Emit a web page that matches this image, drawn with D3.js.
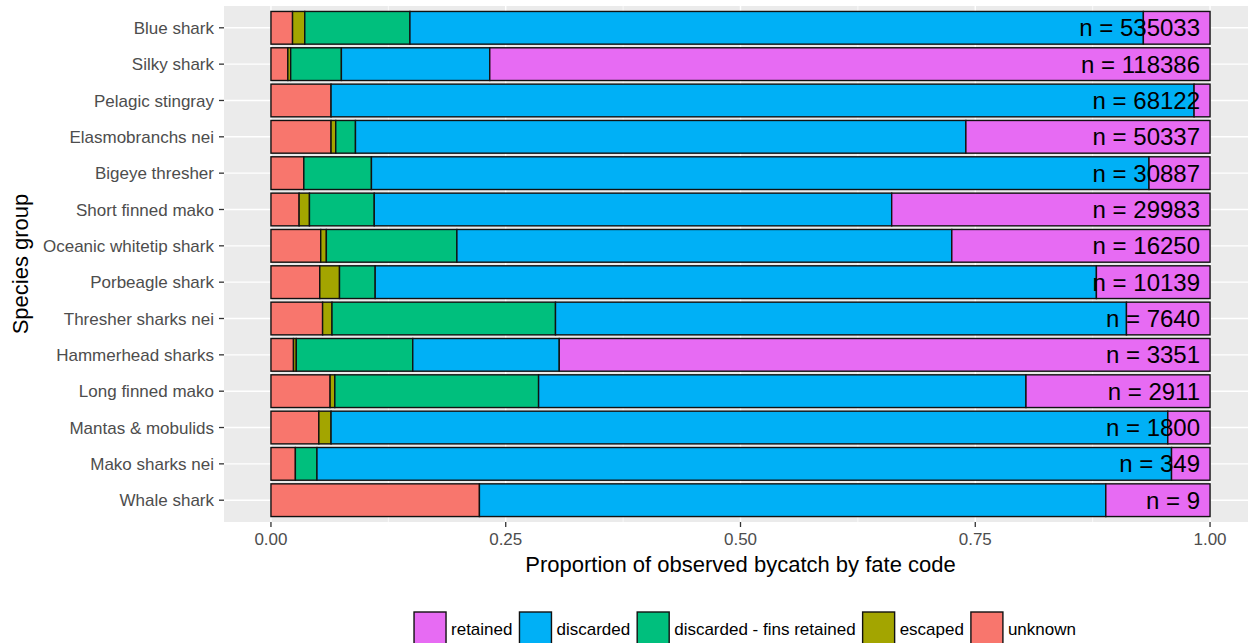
<!DOCTYPE html>
<html>
<head>
<meta charset="utf-8">
<script src="https://cdn.jsdelivr.net/npm/d3@7"></script>
<style>
	body { margin: 0; background: #fff; }
	text { font-family: "Liberation Sans", Arial, sans-serif; }
</style>
</head>
<body>
<svg id="chart" width="1248" height="643"></svg>
<script>
/*=================================
	DATA
**===============================*/

//Species, top to bottom
var species = ["Blue shark", "Silky shark", "Pelagic stingray", "Elasmobranchs nei",
	"Bigeye thresher", "Short finned mako", "Oceanic whitetip shark", "Porbeagle shark",
	"Thresher sharks nei", "Hammerhead sharks", "Long finned mako", "Mantas & mobulids",
	"Mako sharks nei", "Whale shark"];

//Proportion of each fate code
var unknown      = [0.023, 0.018, 0.064, 0.064, 0.035, 0.030, 0.053, 0.052, 0.055, 0.024, 0.063, 0.051, 0.026, 0.222];
var escaped      = [0.013, 0.003, 0.000, 0.005, 0.000, 0.011, 0.006, 0.021, 0.010, 0.003, 0.005, 0.013, 0.000, 0.000];
var finsRetained = [0.112, 0.054, 0.000, 0.021, 0.072, 0.069, 0.139, 0.038, 0.238, 0.124, 0.217, 0.000, 0.023, 0.000];
var discarded    = [0.781, 0.158, 0.919, 0.650, 0.828, 0.551, 0.527, 0.768, 0.608, 0.156, 0.519, 0.891, 0.910, 0.667];
var retained     = [0.071, 0.767, 0.017, 0.260, 0.065, 0.339, 0.275, 0.121, 0.089, 0.693, 0.196, 0.045, 0.041, 0.111];

//Observed counts
var nObs = [535033, 118386, 68122, 50337, 30887, 29983, 16250, 10139, 7640, 3351, 2911, 1800, 349, 9];

var xTicks = [0, 0.25, 0.5, 0.75, 1];
var xMinor = [0.125, 0.375, 0.625, 0.875];
var xTickLabels = ["0.00", "0.25", "0.50", "0.75", "1.00"];

//Stack order (left to right) and legend order
var fateKeys = ["unknown", "escaped", "finsRetained", "discarded", "retained"];
var legendKeys = ["retained", "discarded", "finsRetained", "escaped", "unknown"];
var legendLabels = ["retained", "discarded", "discarded - fins retained", "escaped", "unknown"];
var fateColors = ["#F8766D", "#A3A500", "#00BF7D", "#00B0F6", "#E76BF3"];

/*=================================
	SETUP
**===============================*/

var svg = d3.select("#chart");
var panel = { left: 224, right: 1257, top: 6, bottom: 522 };

var x = d3.scaleLinear().domain([-0.05, 1.05]).range([panel.left, panel.right]);
var y = d3.scalePoint().domain(species).range([panel.top, panel.bottom]).padding(0.6);
var barH = y.step() * 0.9;
var color = d3.scaleOrdinal().domain(fateKeys).range(fateColors);

var rows = species.map(function(s, i) {
	return {
		species: s,
		unknown: unknown[i],
		escaped: escaped[i],
		finsRetained: finsRetained[i],
		discarded: discarded[i],
		retained: retained[i],
		n: nObs[i]
	};
});

var stacked = d3.stack().keys(fateKeys)(rows);

/*=================================
	PANEL & GRID
**===============================*/

svg.append("rect")
	.attr("x", panel.left).attr("y", panel.top)
	.attr("width", panel.right - panel.left).attr("height", panel.bottom - panel.top)
	.attr("fill", "#EBEBEB");

svg.selectAll(".minor").data(xMinor).enter().append("line")
	.attr("x1", function(d) { return x(d); }).attr("x2", function(d) { return x(d); })
	.attr("y1", panel.top).attr("y2", panel.bottom)
	.attr("stroke", "#fff").attr("stroke-width", 0.7);

svg.selectAll(".vmajor").data(xTicks).enter().append("line")
	.attr("x1", function(d) { return x(d); }).attr("x2", function(d) { return x(d); })
	.attr("y1", panel.top).attr("y2", panel.bottom)
	.attr("stroke", "#fff").attr("stroke-width", 1.4);

svg.selectAll(".hmajor").data(species).enter().append("line")
	.attr("x1", panel.left).attr("x2", panel.right)
	.attr("y1", function(d) { return y(d); }).attr("y2", function(d) { return y(d); })
	.attr("stroke", "#fff").attr("stroke-width", 1.4);

/*=================================
	BARS
**===============================*/

svg.append("g").selectAll("g").data(stacked).enter().append("g")
	.attr("fill", function(d) { return color(d.key); })
	.selectAll("rect")
	.data(function(d) { return d.filter(function(p) { return p[1] - p[0] > 0; }); })
	.enter().append("rect")
	.attr("x", function(d) { return x(d[0]); })
	.attr("width", function(d) { return x(d[1]) - x(d[0]); })
	.attr("y", function(d) { return y(d.data.species) - barH / 2; })
	.attr("height", barH)
	.attr("stroke", "#111")
	.attr("stroke-width", 1.4);

//n labels
svg.append("g").selectAll("text").data(rows).enter().append("text")
	.attr("x", x(1) - 10)
	.attr("y", function(d) { return y(d.species); })
	.attr("dy", "0.36em")
	.attr("text-anchor", "end")
	.attr("font-size", 24)
	.attr("fill", "#000")
	.text(function(d) { return "n = " + d.n; });

/*=================================
	AXES
**===============================*/

var xAxis = svg.append("g");
xAxis.selectAll("line").data(xTicks).enter().append("line")
	.attr("x1", function(d) { return x(d); }).attr("x2", function(d) { return x(d); })
	.attr("y1", panel.bottom).attr("y2", panel.bottom + 5)
	.attr("stroke", "#333").attr("stroke-width", 1.3);
xAxis.selectAll("text").data(xTicks).enter().append("text")
	.attr("x", function(d) { return x(d); })
	.attr("y", 545)
	.attr("text-anchor", "middle")
	.attr("font-size", 17)
	.attr("fill", "#4D4D4D")
	.text(function(d, i) { return xTickLabels[i]; });

var yAxis = svg.append("g");
yAxis.selectAll("line").data(species).enter().append("line")
	.attr("x1", panel.left - 5).attr("x2", panel.left)
	.attr("y1", function(d) { return y(d); }).attr("y2", function(d) { return y(d); })
	.attr("stroke", "#333").attr("stroke-width", 1.3);
yAxis.selectAll("text").data(species).enter().append("text")
	.attr("x", panel.left - 10)
	.attr("y", function(d) { return y(d); })
	.attr("dy", "0.36em")
	.attr("text-anchor", "end")
	.attr("font-size", 17)
	.attr("fill", "#4D4D4D")
	.text(function(d) { return d; });

//Axis titles
svg.append("text")
	.attr("x", (x(0) + x(1)) / 2).attr("y", 572)
	.attr("text-anchor", "middle")
	.attr("font-size", 22)
	.attr("fill", "#000")
	.text("Proportion of observed bycatch by fate code");

svg.append("text")
	.attr("transform", "translate(28," + ((panel.top + panel.bottom) / 2) + ") rotate(-90)")
	.attr("text-anchor", "middle")
	.attr("font-size", 22)
	.attr("fill", "#000")
	.text("Species group");

/*=================================
	LEGEND
**===============================*/

var legend = svg.append("g");
var keySize = 32, cursor = 0;
legendKeys.forEach(function(k, i) {
	var item = legend.append("g").attr("transform", "translate(" + cursor + ",0)");
	item.append("rect")
		.attr("x", 0).attr("y", 612)
		.attr("width", keySize).attr("height", keySize)
		.attr("fill", color(k))
		.attr("stroke", "#111").attr("stroke-width", 1.4);
	var label = item.append("text")
		.attr("x", keySize + 5).attr("y", 635)
		.attr("font-size", 17)
		.attr("fill", "#000")
		.text(legendLabels[i]);
	cursor += keySize + 5 + label.node().getComputedTextLength() + 7;
});
//Center the legend under the panel
legend.attr("transform", "translate(" + (745 - (cursor - 7) / 2) + ",0)");
</script>
</body>
</html>
